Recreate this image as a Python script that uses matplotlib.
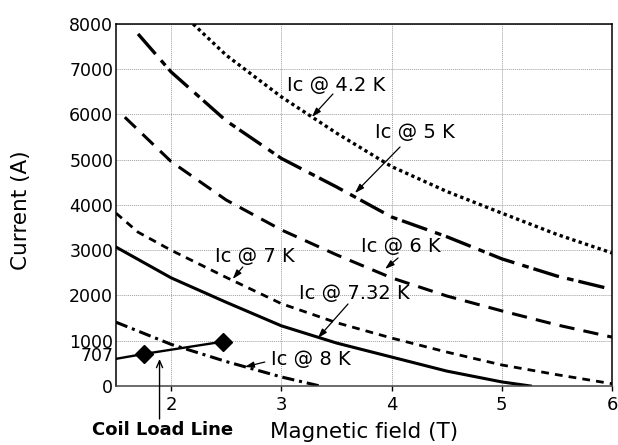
"""
Critical current curves vs coil load line
"""

import matplotlib
matplotlib.use("Agg")
import matplotlib.pyplot as plt

# ----------------------------------------------------------------------
# Data (field in T, current in A)
# ----------------------------------------------------------------------

b_42 = [2.2, 2.5, 3.0, 3.5, 4.0, 4.5, 5.0, 5.5, 6.0]
ic_42 = [8000, 7310, 6390, 5590, 4850, 4300, 3820, 3350, 2940]

b_5 = [1.7, 2.0, 2.5, 3.0, 3.5, 4.0, 4.5, 5.0, 5.5, 5.94]
ic_5 = [7780, 6940, 5860, 5030, 4400, 3735, 3300, 2810, 2430, 2170]

b_6 = [1.58, 2.0, 2.5, 3.0, 3.5, 4.0, 4.5, 5.0, 5.5, 6.0]
ic_6 = [5940, 4960, 4110, 3450, 2900, 2390, 1990, 1660, 1350, 1080]

b_7 = [1.5, 1.7, 2.0, 2.5, 3.0, 3.5, 4.0, 4.5, 5.0, 5.5, 6.0]
ic_7 = [3820, 3400, 3000, 2400, 1820, 1400, 1060, 750, 465, 250, 50]

b_732 = [1.5, 2.0, 2.5, 3.0, 3.5, 4.0, 4.5, 5.0, 5.26]
ic_732 = [3070, 2390, 1850, 1330, 950, 640, 330, 90, 0]

b_8 = [1.5, 2.0, 2.5, 3.0, 3.35]
ic_8 = [1410, 920, 540, 200, 0]

load_b = [1.5, 1.75, 2.47]
load_i = [600, 707, 980]
marker_b = [1.75, 2.47]
marker_i = [707, 980]

x_ticks = [2, 3, 4, 5, 6]
y_ticks = [0, 1000, 2000, 3000, 4000, 5000, 6000, 7000, 8000]
y_extra = [707]

plt.rcParams["font.family"] = ["DejaVu Sans"]

fig = plt.figure(figsize=(6.18, 4.45), dpi=100)
ax = fig.add_axes([0.1877, 0.1326, 0.8026, 0.8135])

ax.plot(b_42, ic_42, color="black", lw=2.4, dashes=(1.0, 1.0), dash_capstyle="butt")
ax.plot(b_5, ic_5, color="black", lw=2.4, dashes=(8, 2.5, 2, 1.5))
ax.plot(b_6, ic_6, color="black", lw=2.2, dashes=(5, 3))
ax.plot(b_7, ic_7, color="black", lw=2.0, dashes=(2.8, 2.2))
ax.plot(b_732, ic_732, color="black", lw=2.2)
ax.plot(b_8, ic_8, color="black", lw=2.2, dashes=(4, 1.6, 1, 1.6))

ax.plot(load_b, load_i, color="black", lw=1.7)
ax.plot(marker_b, marker_i, ls="none", marker="D", ms=9.5, color="black")

ax.set_xlim(1.5, 6)
ax.set_ylim(0, 8000)
ax.set_xticks(x_ticks)
ax.set_yticks(y_ticks)
ax.set_yticks(y_extra, minor=True)
ax.set_yticklabels([str(v) for v in y_extra], minor=True)
ax.tick_params(axis="x", length=3.6, width=1, pad=3.5, labelsize=13)
ax.tick_params(axis="y", which="both", length=0, pad=2, labelsize=12.5)
ax.grid(which="major", color="#a0a0a0", lw=0.7, ls=(0, (1, 1)))
ax.set_axisbelow(True)
for side in ["left", "right", "top", "bottom"]:
    ax.spines[side].set_linewidth(1.1)
ax.spines["bottom"].set_color("#444444")

# labels for the curves
arrow = dict(arrowstyle="-|>,head_length=0.55,head_width=0.18", color="black", lw=0.9,
             shrinkA=0, shrinkB=0)
labels = [
    ("Ic @ 4.2 K", (3.495, 6630), (3.468, 6453), (3.277, 5945)),
    ("Ic @ 5 K", (4.209, 5591), (4.077, 5282), (3.668, 4265)),
    ("Ic @ 6 K", (4.086, 3072), (4.059, 2829), (3.941, 2586)),
    ("Ic @ 7.32 K", (3.664, 2033), (3.605, 1812), (3.332, 1061)),
    ("Ic @ 7 K", (2.759, 2851), (2.650, 2630), (2.559, 2365)),
    ("Ic @ 8 K", (3.268, 575), (2.850, 530), (2.668, 420)),
]
for txt, pos, tail, head in labels:
    ax.text(pos[0], pos[1], txt, ha="center", va="center", fontsize=14)
    ax.annotate("", xy=head, xytext=tail, arrowprops=arrow)

ax.text(1.918, -972, "Coil Load Line", ha="center", va="center", fontsize=13,
        fontweight="bold", clip_on=False)
ax.annotate("", xy=(1.895, 597), xytext=(1.895, -729), annotation_clip=False,
            arrowprops=dict(arrowstyle="->,head_length=0.5,head_width=0.22",
                            color="black", lw=1.0, shrinkA=0, shrinkB=0))

fig.text(0.589, 0.029, "Magnetic field (T)", ha="center", va="center", fontsize=15.5)
fig.text(0.034, 0.528, "Current (A)", ha="center", va="center", rotation=90, fontsize=15.5)

fig.savefig("out.png", dpi=100)
